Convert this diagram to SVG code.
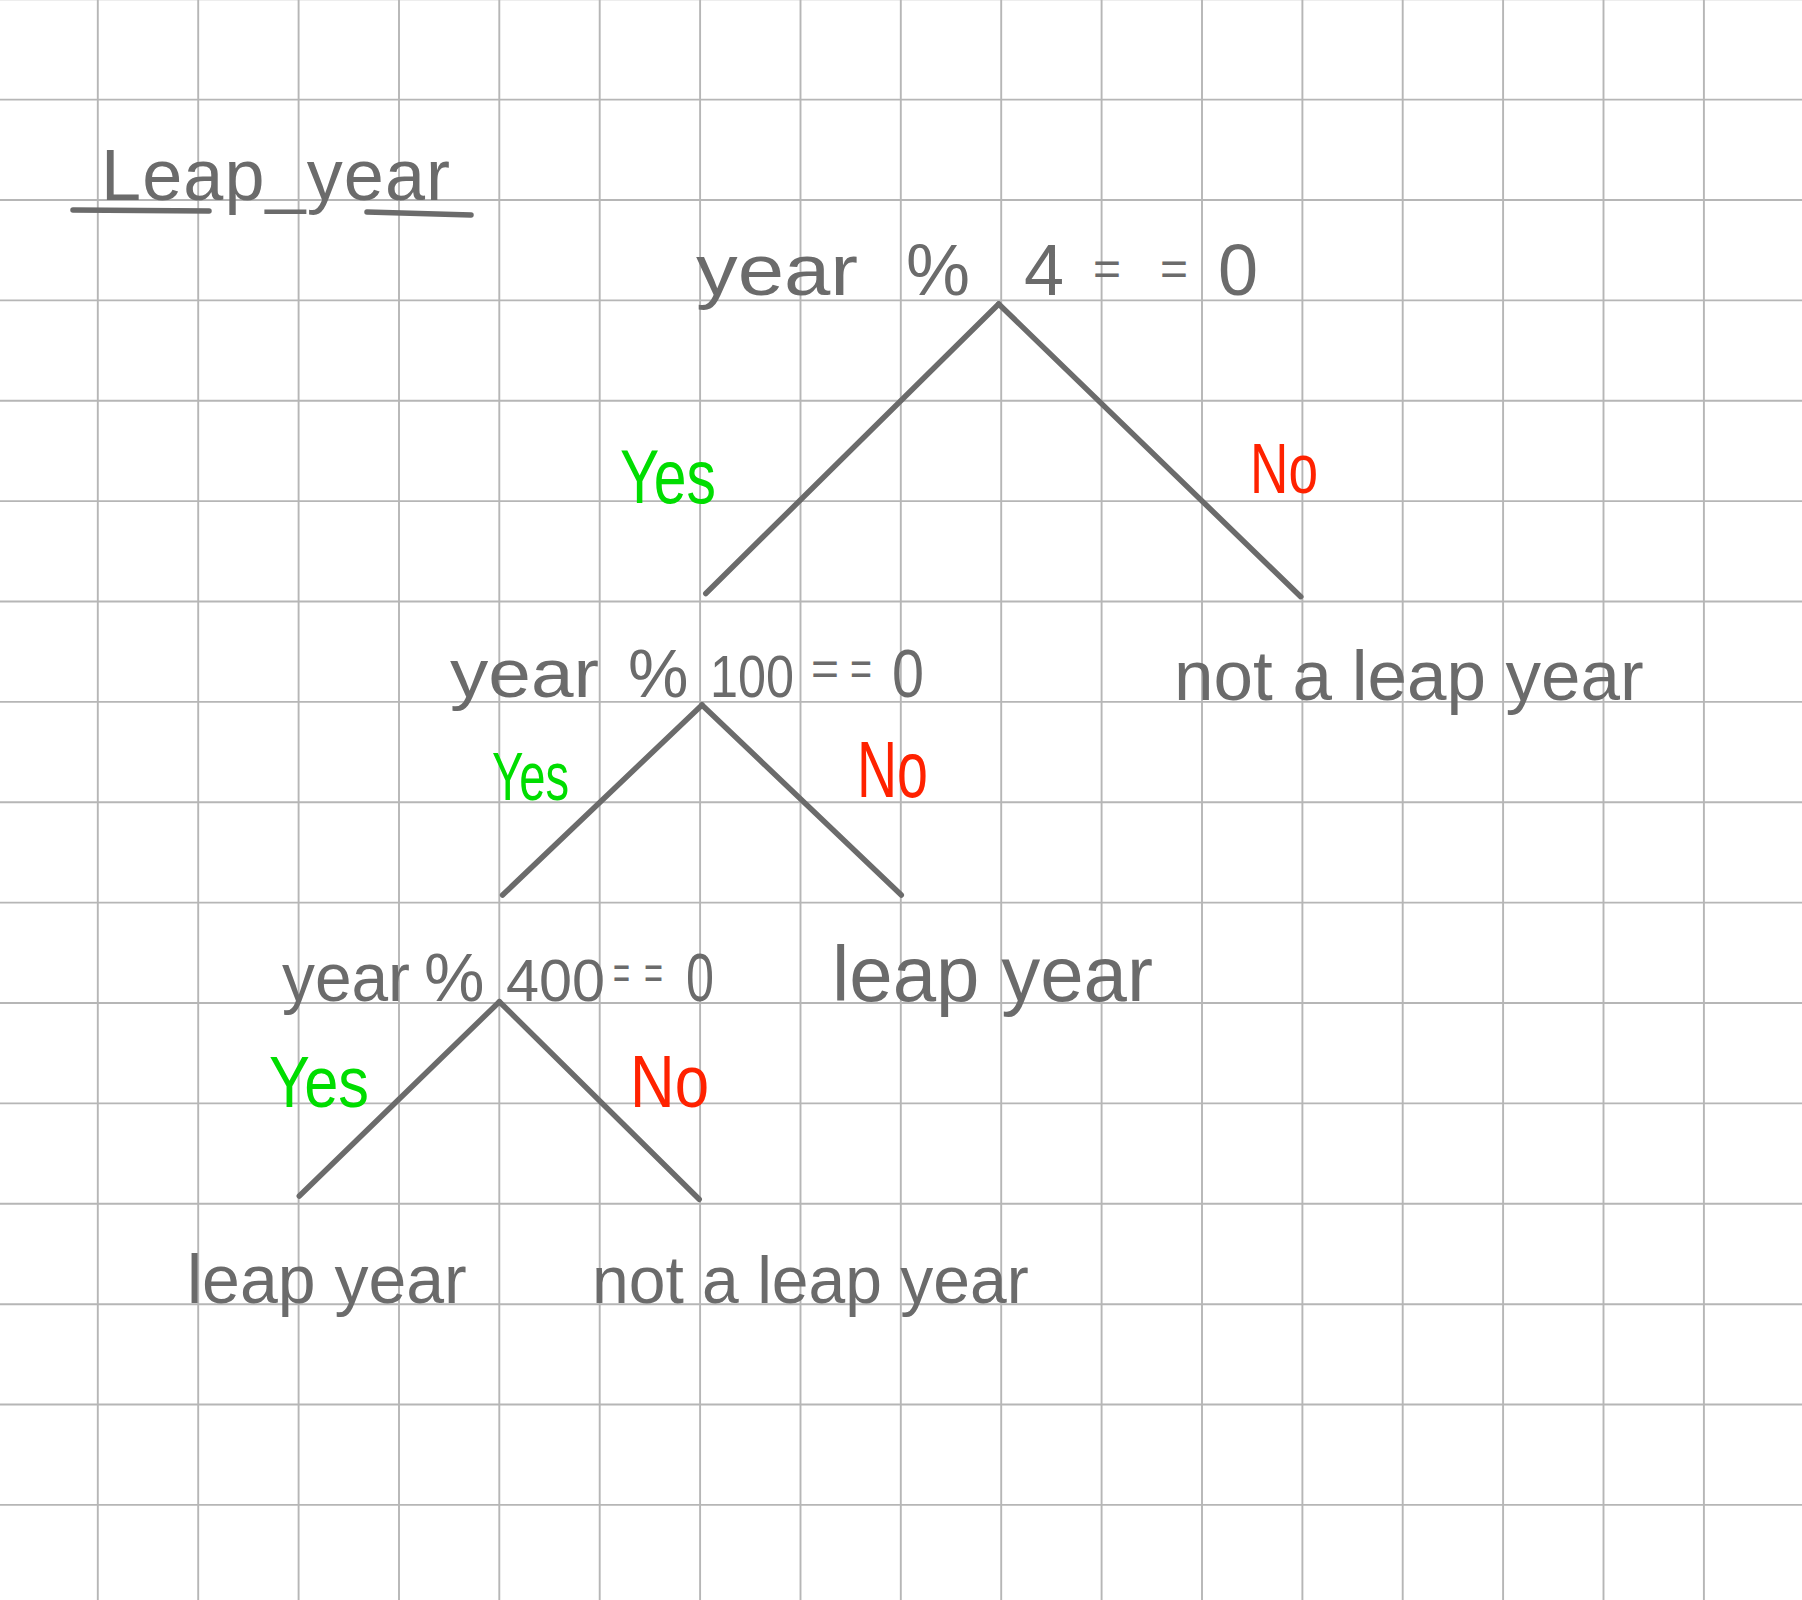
<svg xmlns="http://www.w3.org/2000/svg" width="1802" height="1600" viewBox="0 0 1802 1600">
<style>
.grid{stroke:#b6b6b6;stroke-width:1.9;fill:none}
.ink{fill:#6b6b6b;font-family:"Liberation Sans",Arial,sans-serif}
.eq{font-size:48px}
.yes{fill:#00dd00;font-family:"Liberation Sans",Arial,sans-serif}
.no{fill:#ff2200;font-family:"Liberation Sans",Arial,sans-serif}
.edge{stroke:#6b6b6b;stroke-width:5.5;stroke-linecap:round;fill:none}
.uline{stroke:#6b6b6b;stroke-width:5.5;stroke-linecap:round}
</style>
<rect x="0" y="0" width="1802" height="1600" fill="#ffffff"/>
<g id="grid">
<path class="grid" d="M97.8 0V1600M198.2 0V1600M298.6 0V1600M399 0V1600M499.3 0V1600M599.7 0V1600M700.1 0V1600M800.5 0V1600M900.8 0V1600M1001.2 0V1600M1101.6 0V1600M1202 0V1600M1302.4 0V1600M1402.7 0V1600M1503.1 0V1600M1603.5 0V1600M1703.9 0V1600"/>
<path class="grid" d="M0 -0.8H1802M0 99.6H1802M0 200H1802M0 300.4H1802M0 400.7H1802M0 501.1H1802M0 601.5H1802M0 701.9H1802M0 802.3H1802M0 902.6H1802M0 1003H1802M0 1103.4H1802M0 1203.8H1802M0 1304.2H1802M0 1404.5H1802M0 1504.9H1802"/>
</g>
<g id="title">
<text class="ink" x="101" y="200" font-size="72" textLength="349" lengthAdjust="spacing">Leap_year</text>
<line class="uline" x1="73" y1="210" x2="209" y2="211"/>
<line class="uline" x1="367" y1="212" x2="471" y2="215"/>
</g>
<g id="connectors">
<line class="edge" x1="998.7" y1="304" x2="705.8" y2="593.5"/>
<line class="edge" x1="998.7" y1="304" x2="1300.8" y2="596.7"/>
<line class="edge" x1="702" y1="705" x2="502.6" y2="895"/>
<line class="edge" x1="702" y1="705" x2="901.3" y2="895"/>
<line class="edge" x1="499.4" y1="1001.7" x2="299.3" y2="1196"/>
<line class="edge" x1="499.4" y1="1001.7" x2="699.2" y2="1199.3"/>
<text class="yes" x="620" y="503" font-size="76" textLength="96" lengthAdjust="spacingAndGlyphs">Yes</text>
<text class="no" x="1250" y="493" font-size="70" textLength="68" lengthAdjust="spacingAndGlyphs">No</text>
<text class="yes" x="492" y="800" font-size="68" textLength="77" lengthAdjust="spacingAndGlyphs">Yes</text>
<text class="no" x="857" y="797" font-size="80" textLength="71" lengthAdjust="spacingAndGlyphs">No</text>
<text class="yes" x="269" y="1107" font-size="72" textLength="100" lengthAdjust="spacingAndGlyphs">Yes</text>
<text class="no" x="630" y="1107" font-size="75" textLength="79" lengthAdjust="spacingAndGlyphs">No</text>
</g>
<g id="node-mod4">
<text class="ink" y="295" font-size="72"><tspan x="696" textLength="162" lengthAdjust="spacingAndGlyphs">year</tspan> <tspan x="906">%</tspan> <tspan x="1024">4</tspan> <tspan class="eq" x="1093" y="285">=</tspan> <tspan class="eq" x="1160" y="285">=</tspan> <tspan x="1218" y="295">0</tspan></text>
</g>
<g id="node-mod100">
<text class="ink" y="697" font-size="68"><tspan x="450" textLength="149" lengthAdjust="spacingAndGlyphs">year</tspan> <tspan x="628">%</tspan><tspan x="710" font-size="60" textLength="84" lengthAdjust="spacingAndGlyphs">100</tspan><tspan class="eq" x="811" y="685">=</tspan><tspan class="eq" x="850" y="685" textLength="22" lengthAdjust="spacingAndGlyphs">=</tspan><tspan x="892" y="697" textLength="32" lengthAdjust="spacingAndGlyphs">0</tspan></text>
</g>
<g id="node-mod400">
<text class="ink" y="1001" font-size="68"><tspan x="282" textLength="128" lengthAdjust="spacingAndGlyphs">year</tspan><tspan x="424">%</tspan><tspan x="506" font-size="60" textLength="99" lengthAdjust="spacingAndGlyphs">400</tspan><tspan class="eq" x="613" y="989" textLength="17" lengthAdjust="spacingAndGlyphs">=</tspan><tspan class="eq" x="644" y="989" textLength="19" lengthAdjust="spacingAndGlyphs">=</tspan><tspan x="686" y="1001" textLength="28" lengthAdjust="spacingAndGlyphs">0</tspan></text>
</g>
<g id="leaf-not-leap-1">
<text class="ink" x="1174" y="700" font-size="71">not a leap year</text>
</g>
<g id="leaf-leap-1">
<text class="ink" x="832" y="1001" font-size="78">leap year</text>
</g>
<g id="leaf-leap-2">
<text class="ink" x="187" y="1303" font-size="68">leap year</text>
</g>
<g id="leaf-not-leap-2">
<text class="ink" x="592" y="1303" font-size="66">not a leap year</text>
</g>
</svg>
